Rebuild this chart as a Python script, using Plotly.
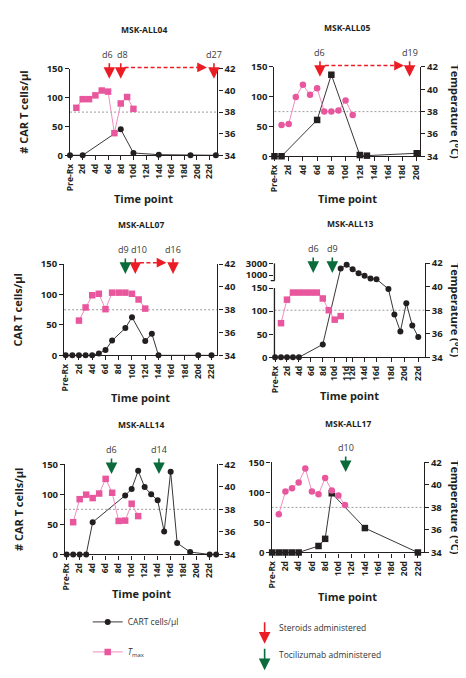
import plotly.graph_objects as go

W, H = 466, 678

# ---------------- data ----------------
tick_days_22 = [0, 2, 4, 6, 8, 10, 12, 14, 16, 18, 20, 22]
tick_labels_22 = ["Pre-Rx", "2d", "4d", "6d", "8d", "10d", "12d", "14d", "16d", "18d", "20d", "22d"]
tick_days_20 = [0, 2, 4, 6, 8, 10, 12, 14, 16, 18, 20]
tick_labels_20 = ["Pre-Rx", "2d", "4d", "6d", "8d", "10d", "12d", "14d", "16d", "18d", "20d"]
tick_pos_13 = [0, 2, 4, 6, 8, 10, 12, 13, 15, 17, 19.5, 21.7, 24]
tick_labels_13 = ["Pre-Rx", "2d", "4d", "6d", "8d", "10d", "11d", "12d", "14d", "16d", "18d", "20d", "22d"]

# MSK-ALL04
all04_cart_days = [0, 2, 8, 10, 14, 19, 23]
all04_cart = [0, 0, 45, 4, 1, 0, 0]
all04_tmax_days = [1, 2, 3, 4, 5, 6, 7, 8, 9, 10]
all04_tmax = [38.4, 39.2, 39.2, 39.55, 40.0, 39.9, 36.05, 38.8, 39.4, 38.3]
all04_steroid_pos = [6.2, 8.0, 22.7]
all04_steroid_lbl = ["d6", "d8", "d27"]
all04_toci_pos = []
all04_toci_lbl = []
all04_dashed = [(8.6, 21.6)]

# MSK-ALL05
all05_cart_days = [0, 1, 6, 8, 12, 13, 20]
all05_cart = [0, 0, 61, 137, 2, 1, 5]
all05_tmax_days = [1, 2, 3, 4, 5, 6, 7, 8, 9, 10, 11]
all05_tmax = [36.8, 36.9, 39.3, 40.4, 39.5, 40.1, 38.0, 38.0, 38.1, 39.0, 37.7]
all05_steroid_pos = [6.4, 19.0]
all05_steroid_lbl = ["d6", "d19"]
all05_toci_pos = []
all05_toci_lbl = []
all05_dashed = [(7.1, 18.2)]

# MSK-ALL07
all07_cart_days = [0, 1, 2, 3, 4, 5, 6, 7, 9, 10, 12, 13, 14, 20, 22]
all07_cart = [0, 0, 0, 0, 0, 3, 8.6, 24.3, 44.8, 62.6, 23.7, 35.6, 0, 0, 0]
all07_tmax_days = [2, 3, 4, 5, 6, 7, 8, 9, 10, 11, 12]
all07_tmax = [37.05, 38.2, 39.27, 39.4, 38.05, 39.5, 39.5, 39.5, 39.4, 38.9, 38.1]
all07_steroid_pos = [10.5, 16.2]
all07_steroid_lbl = ["d10", "d16"]
all07_toci_pos = [9.0]
all07_toci_lbl = ["d9"]
all07_dashed = [(11.2, 15.2)]

# MSK-ALL13 (broken left axis)
all13_cart_pos = [0, 1, 2, 3, 4, 8, 11, 12, 13, 14, 15, 16, 17, 19, 20, 21, 22, 23, 24]
all13_cart = [0, 0, 0, 0, 0, 28, 2110, 2720, 2000, 1330, 890, 440, 330, 148, 93, 56, 117, 69, 44]
all13_tmax_pos = [1, 2, 3, 4, 5, 6, 7, 8, 9, 10, 11]
all13_tmax = [36.9, 38.9, 39.5, 39.5, 39.5, 39.5, 39.5, 39.0, 38.0, 37.2, 37.5]
all13_steroid_pos = []
all13_steroid_lbl = []
all13_toci_pos = [6.4, 9.6]
all13_toci_lbl = ["d6", "d9"]
all13_dashed = []

# MSK-ALL14
all14_cart_days = [0, 1, 2, 3, 4, 9, 10, 11, 12, 13, 14, 15, 16, 17, 19, 22, 23]
all14_cart = [0, 0, 0, 0, 53.5, 98, 109, 139, 112, 100, 90, 38, 137.5, 19, 4, 0, 0]
all14_tmax_days = [1, 2, 3, 4, 5, 6, 7, 8, 9, 10, 11]
all14_tmax = [36.86, 38.9, 39.3, 39.0, 39.4, 40.7, 39.47, 36.97, 37.0, 38.5, 37.4]
all14_steroid_pos = []
all14_steroid_lbl = []
all14_toci_pos = [6.9, 14.2]
all14_toci_lbl = ["d6", "d14"]
all14_dashed = []

# MSK-ALL17
all17_cart_days = [0, 1, 2, 3, 4, 7, 8, 9, 14, 22]
all17_cart = [0, 0, 0, 0, 0, 10.8, 22.7, 98.5, 40.6, 0]
all17_tmax_days = [1, 2, 3, 4, 5, 6, 7, 8, 9, 10, 11]
all17_tmax = [37.4, 39.4, 39.7, 40.2, 41.45, 39.4, 39.17, 40.6, 39.5, 39.05, 38.2]
all17_steroid_pos = []
all17_steroid_lbl = []
all17_toci_pos = [11.1]
all17_toci_lbl = ["d10"]
all17_dashed = []

fever_threshold = 38

# broken-axis scale for MSK-ALL13: values above 150 go to an upper segment
BRK_LOW_TOP = 150
BRK_UP_ANCHOR = 1000
BRK_UP_ANCHOR_D = 178.0
BRK_UP_SLOPE = 0.01295
BRK_UP_START_D = 166
BRK_TOP_D = 204
def brk(v):
    return v if v <= BRK_LOW_TOP else BRK_UP_ANCHOR_D + (v - BRK_UP_ANCHOR) * BRK_UP_SLOPE

# ---------------- style ----------------
FONT = "Open Sans"
BLACK = "#231f20"
PINK_M = "#e8579d"
PINK_L = "#f28dbf"
RED = "#ec1c24"
GREEN = "#0b6b3a"
label_nudge = {("MSK-ALL04", "d6"): -2, ("MSK-ALL04", "d8"): 2,
               ("MSK-ALL07", "d9"): -2, ("MSK-ALL07", "d10"): 4}

panels = [
    dict(title="MSK-ALL04", rect=(57, 55, 207, 143), xr=[0, 23.25], ticks=(tick_days_22, tick_labels_22),
         cart=(all04_cart_days, all04_cart), csym="circle", tmax=(all04_tmax_days, all04_tmax), tsym="square",
         ster=(all04_steroid_pos, all04_steroid_lbl), toci=(all04_toci_pos, all04_toci_lbl), dashed=all04_dashed,
         ltitle="# CAR T cells/µl", rtitle=False, broken=False, xt=187),
    dict(title="MSK-ALL05", rect=(265, 53, 413, 144), xr=[0, 20.45], ticks=(tick_days_20, tick_labels_20),
         cart=(all05_cart_days, all05_cart), csym="square", tmax=(all05_tmax_days, all05_tmax), tsym="circle",
         ster=(all05_steroid_pos, all05_steroid_lbl), toci=(all05_toci_pos, all05_toci_lbl), dashed=all05_dashed,
         ltitle=None, rtitle=True, broken=False, xt=187),
    dict(title="MSK-ALL07", rect=(51, 254, 207, 347), xr=[-0.24, 22.9], ticks=(tick_days_22, tick_labels_22),
         cart=(all07_cart_days, all07_cart), csym="circle", tmax=(all07_tmax_days, all07_tmax), tsym="square",
         ster=(all07_steroid_pos, all07_steroid_lbl), toci=(all07_toci_pos, all07_toci_lbl), dashed=all07_dashed,
         ltitle="CAR T cells/µl", rtitle=False, broken=False, xt=390),
    dict(title="MSK-ALL13", rect=(265, 253, 418, 349), xr=[-0.1, 25.1], ticks=(tick_pos_13, tick_labels_13),
         cart=(all13_cart_pos, [brk(v) for v in all13_cart]), csym="circle", tmax=(all13_tmax_pos, all13_tmax), tsym="square",
         ster=(all13_steroid_pos, all13_steroid_lbl), toci=(all13_toci_pos, all13_toci_lbl), dashed=all13_dashed,
         ltitle=None, rtitle=True, broken=True, xt=388),
    dict(title="MSK-ALL14", rect=(52, 458, 207, 550), xr=[-0.24, 23.2], ticks=(tick_days_22, tick_labels_22),
         cart=(all14_cart_days, all14_cart), csym="circle", tmax=(all14_tmax_days, all14_tmax), tsym="square",
         ster=(all14_steroid_pos, all14_steroid_lbl), toci=(all14_toci_pos, all14_toci_lbl), dashed=all14_dashed,
         ltitle="# CAR T cells/µl", rtitle=False, broken=False, xt=590),
    dict(title="MSK-ALL17", rect=(262, 456, 417, 548), xr=[-0.1, 22.9], ticks=(tick_days_22, tick_labels_22),
         cart=(all17_cart_days, all17_cart), csym="square", tmax=(all17_tmax_days, all17_tmax), tsym="circle",
         ster=(all17_steroid_pos, all17_steroid_lbl), toci=(all17_toci_pos, all17_toci_lbl), dashed=all17_dashed,
         ltitle=None, rtitle=True, broken=False, xt=593),
]

fig = go.Figure()
layout = dict(
    width=W, height=H, margin=dict(l=0, r=0, t=0, b=0),
    paper_bgcolor="white", plot_bgcolor="rgba(0,0,0,0)",
    font=dict(family=FONT, color=BLACK),
    showlegend=True,
)
annotations = []
shapes = []

tickfont = dict(family=FONT, size=9.5, color=BLACK, weight="bold")
xtickfont = dict(family=FONT, size=8.5, color=BLACK, weight="bold")
titlefont = dict(family=FONT, size=11, color=BLACK, weight="bold")

def sid(i):
    return "" if i == 1 else str(i)

for k, p in enumerate(panels):
    i = k + 1
    r = i + 6
    l, t, rr, b = p["rect"]
    ph = b - t
    xd = [l / W, rr / W]
    yd = [1 - b / H, 1 - t / H]
    xa, ya, yra = "x" + sid(i), "y" + sid(i), "y" + str(r)

    layout["xaxis" + sid(i)] = dict(
        domain=xd, anchor=ya, range=p["xr"], showgrid=False, zeroline=False,
        showline=True, linecolor=BLACK, linewidth=1.3, ticks="outside", ticklen=4, tickwidth=1.2,
        tickcolor=BLACK, tickvals=p["ticks"][0], ticktext=p["ticks"][1], tickangle=-90,
        tickfont=xtickfont,
    )
    annotations.append(dict(text="<b>Time point</b>", xref="paper", yref="paper",
                            x=(l + rr) / 2 / W, y=1 - p["xt"] / H, xanchor="center", yanchor="middle",
                            showarrow=False, font=titlefont))
    if p["broken"]:
        yl = dict(range=[0, BRK_TOP_D], tickvals=[0, 50, 100, 150, brk(1000), brk(3000)],
                  ticktext=["0", "50", "100", "150", "1000", "3000"], showline=False)
        for y0, y1 in [(0, BRK_LOW_TOP), (BRK_UP_START_D, BRK_TOP_D)]:
            shapes.append(dict(type="line", xref=xa + " domain", yref=ya, x0=0, x1=0, y0=y0, y1=y1,
                               line=dict(color=BLACK, width=1.3)))
        shapes.append(dict(type="line", xref=xa + " domain", yref=ya, x0=-0.025, x1=0,
                           y0=BRK_UP_START_D, y1=BRK_UP_START_D, line=dict(color=BLACK, width=1.2)))
    else:
        yl = dict(range=[0, 150], tickvals=[0, 50, 100, 150], showline=True, linecolor=BLACK, linewidth=1.3)
    ydict = dict(domain=yd, anchor=xa, showgrid=False, zeroline=False, ticks="outside", ticklen=4, tickwidth=1.2,
                 tickcolor=BLACK, tickfont=tickfont, **yl)
    if p["ltitle"]:
        ydict["title"] = dict(text=p["ltitle"], font=titlefont, standoff=15)
    layout["yaxis" + sid(i)] = ydict
    layout["yaxis" + str(r)] = dict(
        domain=yd, anchor=xa, overlaying=ya, side="right", range=[34, 42], tickvals=[34, 36, 38, 40, 42],
        showgrid=False, zeroline=False, showline=True, linecolor=BLACK, linewidth=1.3,
        ticks="outside", ticklen=4, tickwidth=1.2, tickcolor=BLACK, tickfont=tickfont,
    )

    # fever threshold line
    shapes.append(dict(type="line", xref=xa + " domain", yref=yra, x0=0, x1=1,
                       y0=fever_threshold, y1=fever_threshold, line=dict(color="#9d9d9d", width=1, dash="2px,2px"),
                       layer="below"))

    fig.add_trace(go.Scatter(
        x=p["cart"][0], y=p["cart"][1], xaxis=xa, yaxis=ya, mode="lines+markers", showlegend=False,
        line=dict(color=BLACK, width=0.9), marker=dict(symbol=p["csym"], size=6 if p["csym"] == "circle" else 6.5, color=BLACK),
        cliponaxis=False,
    ))
    fig.add_trace(go.Scatter(
        x=p["tmax"][0], y=p["tmax"][1], xaxis=xa, yaxis=yra, mode="lines+markers", showlegend=False,
        line=dict(color=PINK_L, width=1), marker=dict(symbol=p["tsym"], size=6.5, color=PINK_M),
        cliponaxis=False,
    ))

    # panel title
    annotations.append(dict(text="<b>%s</b>" % p["title"], xref="paper", yref="paper",
                            x=(l + rr) / 2 / W, y=1 - (t - 40) / H, xanchor="center", yanchor="middle",
                            showarrow=False, font=dict(family=FONT, size=8.5, color=BLACK)))
    if p["rtitle"]:
        annotations.append(dict(text="<b>Temperature (°C)</b>", xref="paper", yref="paper",
                                x=449 / W, y=1 - (t + b) / 2 / H, textangle=90, showarrow=False,
                                xanchor="center", yanchor="middle", font=titlefont))

    # treatment arrows
    for poss, lbls, col in [(p["ster"][0], p["ster"][1], RED), (p["toci"][0], p["toci"][1], GREEN)]:
        for xp, lb in zip(poss, lbls):
            annotations.append(dict(
                x=xp, y=1 - 10 / ph, xref=xa, yref=ya + " domain", text="", showarrow=True,
                ax=0, ay=-17, arrowhead=2, arrowsize=1.45, arrowwidth=1.6, arrowcolor=col, standoff=0,
            ))
            annotations.append(dict(
                x=xp, y=1 + 15 / ph, xref=xa, yref=ya + " domain", text=lb, showarrow=False,
                xanchor="center", yanchor="middle", xshift=label_nudge.get((p["title"], lb), 0),
                font=dict(family=FONT, size=9, color="#3a3a3a"),
            ))
    for x0, x1 in p["dashed"]:
        yy = 1 + 1.5 / ph
        shapes.append(dict(type="line", xref=xa, yref=ya + " domain", x0=x0, x1=x1 - 0.6, y0=yy, y1=yy,
                           line=dict(color=RED, width=1.5, dash="4px,2.5px")))
        annotations.append(dict(x=x1, y=yy, xref=xa, yref=ya + " domain", text="", showarrow=True,
                                ax=-8, ay=0, arrowhead=2, arrowsize=1.3, arrowwidth=1.5, arrowcolor=RED,
                                standoff=0))

# legend entries
fig.add_trace(go.Scatter(x=[None], y=[None], mode="lines+markers", name="CART cells/µl", legendgroup="a",
                         line=dict(color=BLACK, width=0.9), marker=dict(symbol="circle", size=6, color=BLACK)))
fig.add_trace(go.Scatter(x=[None], y=[None], mode="lines+markers", name="<i>T</i><sub>max</sub>", legendgroup="b",
                         line=dict(color=PINK_L, width=1), marker=dict(symbol="square", size=6.5, color=PINK_M)))
layout["legend"] = dict(x=75 / W, y=1 - 604 / H, xanchor="left", yanchor="top", bgcolor="rgba(0,0,0,0)",
                        font=dict(family=FONT, size=8.5, color="#333"), tracegroupgap=11, itemwidth=30)

# treatment legend
for ytip, col, txt, ytxt in [(641, RED, "Steroids administered", 624), (668, GREEN, "Tocilizumab administered", 652)]:
    annotations.append(dict(x=255 / W, y=1 - ytip / H, xref="paper", yref="paper", text="", showarrow=True,
                            ax=0, ay=-23, arrowhead=2, arrowsize=1.45, arrowwidth=1.6, arrowcolor=col, standoff=0))
    annotations.append(dict(x=268 / W, y=1 - ytxt / H, xref="paper", yref="paper", text=txt, showarrow=False,
                            xanchor="left", yanchor="middle", font=dict(family=FONT, size=8.5, color="#333")))

layout["annotations"] = annotations
layout["shapes"] = shapes
fig.update_layout(**layout)
fig.write_html("out.html")
